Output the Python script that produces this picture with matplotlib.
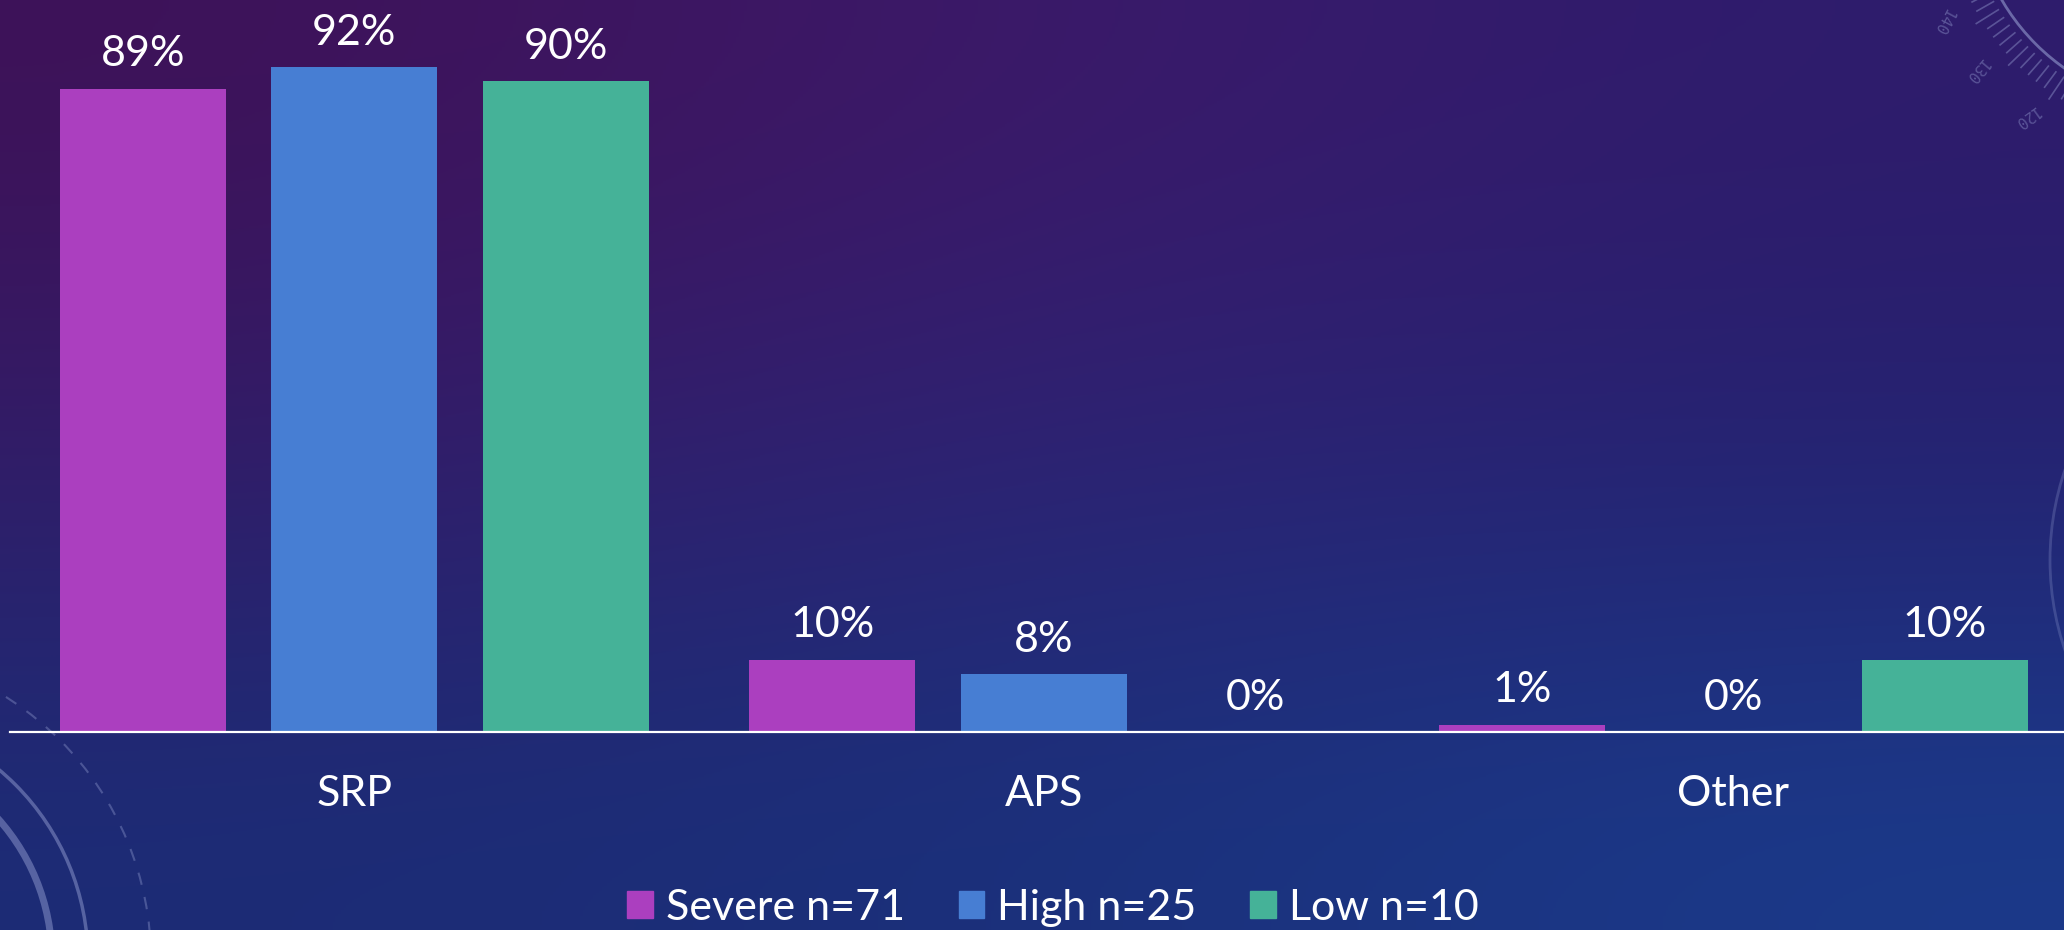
import numpy as np
import matplotlib
matplotlib.use('Agg')
import matplotlib.pyplot as plt
from matplotlib.patches import Arc, Patch

categories = ['SRP', 'APS', 'Other']
series = ['Severe n=71', 'High n=25', 'Low n=10']
severe = [89, 10, 1]
high = [92, 8, 0]
low = [90, 0, 10]
colors = ['#ab3fbf', '#477ed3', '#45b298']

plt.rcParams['font.family'] = ['Lato', 'DejaVu Sans']

W, H = 2064, 930
fig = plt.figure(figsize=(W / 100, H / 100), dpi=100)

# background gradient + faint decorations (pixel coords, y down)
bg = fig.add_axes([0, 0, 1, 1], zorder=0)
grid = np.array([
    [(62, 18, 88), (61, 26, 107), (46, 28, 108)],
    [(50, 28, 104), (46, 36, 118), (36, 34, 112)],
    [(28, 44, 118), (26, 48, 122), (27, 58, 138)],
]) / 255.0
bg.imshow(grid, extent=(0, W, H, 0), interpolation='bicubic', aspect='auto')
deco = (0.62, 0.66, 0.85)
bg.add_patch(Arc((-160, 960), 2 * 248, 2 * 248, theta1=270, theta2=90,
                 color=deco, alpha=0.45, lw=2.5))
bg.add_patch(Arc((-160, 960), 2 * 212, 2 * 212, theta1=270, theta2=90,
                 color=deco, alpha=0.45, lw=5))
bg.add_patch(Arc((-160, 960), 2 * 311, 2 * 311, theta1=270, theta2=90,
                 color=deco, alpha=0.35, lw=1.5, ls=(0, (6, 6))))
bg.add_patch(Arc((2330, 560), 2 * 280, 2 * 280, theta1=90, theta2=270,
                 color=deco, alpha=0.25, lw=2))

# top-right dial
cx, cy, r = 2190, -110, 218
bg.add_patch(Arc((cx, cy), 2 * r, 2 * r, theta1=90, theta2=270,
                 color=deco, alpha=0.55, lw=2))
for a in np.arange(112, 160, 2.4):
    t = np.radians(a)
    r1 = 252 if round((a - 112) / 2.4) % 5 == 0 else 245
    bg.plot([cx + 226 * np.cos(t), cx + r1 * np.cos(t)],
            [cy + 226 * np.sin(t), cy + r1 * np.sin(t)],
            color=deco, alpha=0.4, lw=1.2)
for a, lab in [(152, '140'), (140, '130'), (126, '120')]:
    t = np.radians(a)
    bg.text(cx + 280 * np.cos(t), cy + 280 * np.sin(t), lab, color=deco, alpha=0.4,
            fontsize=11, ha='center', va='center', rotation=a + 90,
            family='DejaVu Sans Mono')
bg.set_xlim(0, W)
bg.set_ylim(H, 0)
bg.axis('off')

# main chart
ax = fig.add_axes([9.5 / W, 198 / H, (2078 - 9.5) / W, 723 / H], zorder=1)
ax.patch.set_alpha(0)
x = np.arange(len(categories))
width = 0.241
offset = 0.3067
for i, (vals, c) in enumerate(zip([severe, high, low], colors)):
    pos = x + (i - 1) * offset
    ax.bar(pos, vals, width, color=c, label=series[i])
    for p, v in zip(pos, vals):
        ax.annotate('%d%%' % v, (p, v), xytext=(0, 11), textcoords='offset points',
                    ha='center', va='bottom', color='white', fontsize=31)

ax.set_xlim(-0.5, 2.5)
ax.set_ylim(0, 100)
ax.set_xticks(x)
ax.set_xticklabels(categories, color='white', fontsize=31)
ax.tick_params(axis='x', length=0, pad=31)
ax.set_yticks([])
for s in ['top', 'right', 'left']:
    ax.spines[s].set_visible(False)
ax.spines['bottom'].set_color('white')
ax.spines['bottom'].set_linewidth(1.6)

handles = [Patch(color=c) for c in colors]
leg = fig.legend(handles, series, loc='center', bbox_to_anchor=(1053 / W, 22 / H),
                 ncol=3, frameon=False, fontsize=31, handlelength=0.6,
                 handleheight=0.6, handletextpad=0.3, columnspacing=1.25)
for t in leg.get_texts():
    t.set_color('white')

fig.savefig('out.png', dpi=100)
